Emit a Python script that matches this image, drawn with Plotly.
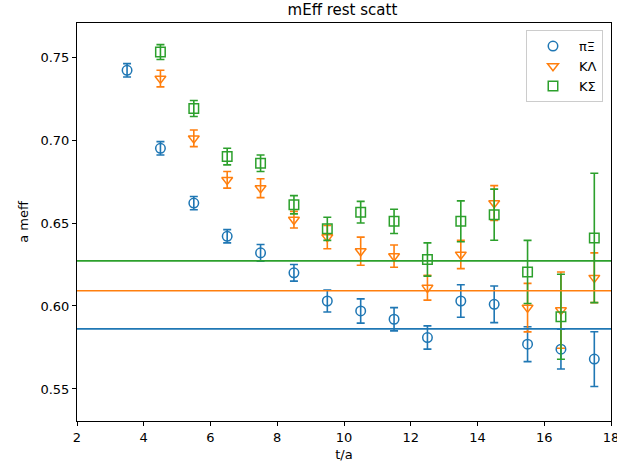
import plotly.graph_objects as go

t_pi = [3.5, 4.5, 5.5, 6.5, 7.5, 8.5, 9.5, 10.5, 11.5, 12.5, 13.5, 14.5, 15.5, 16.5, 17.5]
y_pi = [0.742, 0.695, 0.662, 0.642, 0.632, 0.620, 0.603, 0.597, 0.592, 0.581, 0.603, 0.601, 0.577, 0.574, 0.568]
e_pi = [0.004, 0.004, 0.004, 0.004, 0.005, 0.005, 0.0066, 0.0073, 0.007, 0.007, 0.0098, 0.011, 0.0105, 0.012, 0.0165]

t_kl = [4.5, 5.5, 6.5, 7.5, 8.5, 9.5, 10.5, 11.5, 12.5, 13.5, 14.5, 15.5, 16.5, 17.5]
y_kl = [0.737, 0.701, 0.676, 0.671, 0.652, 0.6415, 0.633, 0.630, 0.611, 0.631, 0.662, 0.599, 0.5975, 0.617]
e_kl = [0.005, 0.005, 0.005, 0.0057, 0.005, 0.007, 0.0085, 0.0067, 0.0075, 0.0085, 0.0105, 0.0146, 0.023, 0.015]

t_ks = [4.5, 5.5, 6.5, 7.5, 8.5, 9.5, 10.5, 11.5, 12.5, 13.5, 14.5, 15.5, 16.5, 17.5]
y_ks = [0.753, 0.719, 0.690, 0.686, 0.661, 0.6465, 0.6565, 0.651, 0.628, 0.651, 0.655, 0.6205, 0.5935, 0.641]
e_ks = [0.0045, 0.0048, 0.005, 0.005, 0.0055, 0.007, 0.0065, 0.0073, 0.010, 0.0123, 0.0154, 0.019, 0.0256, 0.039]

fit_pi = 0.5862
fit_kl = 0.6092
fit_ks = 0.6272

x_ticks = [2, 4, 6, 8, 10, 12, 14, 16, 18]
y_ticks = [0.55, 0.60, 0.65, 0.70, 0.75]

labels = ["πΞ", "KΛ", "KΣ"]
colors = ["#1f77b4", "#ff7f0e", "#2ca02c"]
symbols = ["circle-open", "triangle-down-open", "square-open"]

fig = go.Figure()
for t, y, e, lab, c, s in zip([t_pi, t_kl, t_ks], [y_pi, y_kl, y_ks], [e_pi, e_kl, e_ks],
                              labels, colors, symbols):
    fig.add_trace(go.Scatter(
        x=t, y=y, mode="markers", name=lab,
        marker=dict(symbol=s, size=9.5, color=c, line=dict(width=1.5, color=c)),
        error_y=dict(type="data", array=e, visible=True, color=c, thickness=1.6, width=4),
    ))

for v, c in zip([fit_pi, fit_kl, fit_ks], colors):
    fig.add_hline(y=v, line=dict(color=c, width=1.6))

axis_common = dict(showline=True, linecolor="black", linewidth=1, mirror=True,
                   ticks="outside", ticklen=4, tickcolor="black", showgrid=False,
                   zeroline=False, tickfont=dict(size=13, color="black"), automargin=False,
                   ticklabeloverflow="allow")

fig.update_layout(
    width=617, height=473,
    margin=dict(l=77, r=6, t=23, b=52),
    paper_bgcolor="white", plot_bgcolor="white",
    font=dict(family="DejaVu Sans", color="black"),
    title=dict(text="mEff rest scatt", x=0.555, xanchor="center", y=0.99, yanchor="top",
               font=dict(size=15)),
    xaxis=dict(range=[2, 18], tickvals=x_ticks,
               title=dict(text="t/a", font=dict(size=13), standoff=6), **axis_common),
    yaxis=dict(range=[0.5307, 0.7705], tickvals=y_ticks, tickformat=".2f",
               title=dict(text="a meff", font=dict(size=13), standoff=8), **axis_common),
    legend=dict(x=0.985, y=0.982, xanchor="right", yanchor="top", itemwidth=42,
                bgcolor="rgba(255,255,255,0.8)", bordercolor="#cccccc", borderwidth=1,
                font=dict(size=13)),
    showlegend=True,
)

fig.write_html("out.html", config={"displayModeBar": False},
               post_script="document.body.style.margin='0';document.body.style.overflow='hidden';")
